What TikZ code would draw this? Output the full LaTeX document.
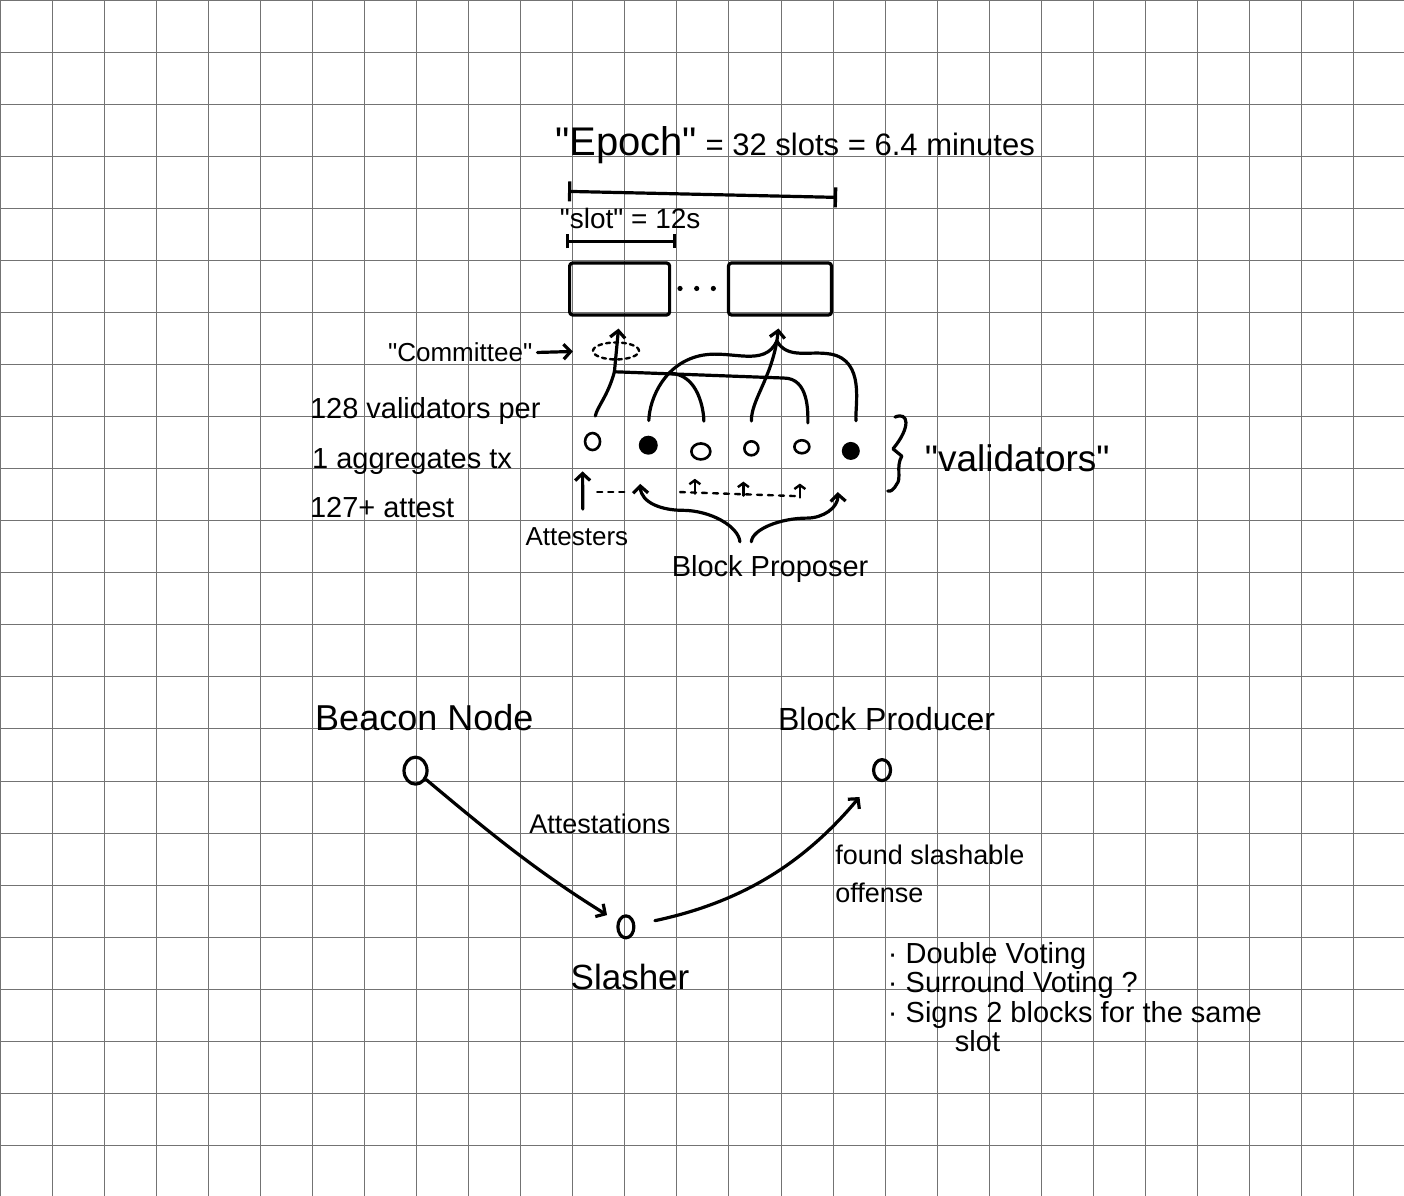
\documentclass[tikz,border=0pt]{standalone}
\usepackage{fontspec}
\setmainfont{Liberation Sans}
\usetikzlibrary{arrows.meta, shapes.geometric}
\newcommand{\dq}{\textquotedbl}

\begin{document}
\begin{tikzpicture}[x=52.07pt, y=52.07pt,
		gridline/.style={draw=black!55, line width=1pt},
		pen/.style={line width=3.2pt, line cap=round, line join=round},
		thinpen/.style={line width=2.4pt, line cap=round, line join=round},
		hand/.style={font=\fontsize{29}{34}\selectfont, inner sep=0pt},
		slotbox/.style={draw, pen, rounded corners=3pt, minimum height=52pt, inner sep=0pt},
		valopen/.style={ellipse, draw, line width=2.6pt, inner sep=0pt},
		valfull/.style={circle, fill, inner sep=0pt},
		ring/.style={ellipse, draw, pen, inner sep=0pt},
		>={Straight Barb[length=7pt, width=15pt]}]
		\fill[white] (0, 0) rectangle (26.964, -22.969);
		\useasboundingbox (0, 0) rectangle (26.964, -22.969);
		\foreach \i in {0,...,26}
			\draw[gridline] (\i, 0) -- (\i, -22.969);
		\foreach \j in {0,...,22}
			\draw[gridline] (0, -\j) -- (26.964, -\j);

		\node[hand, font=\fontsize{31}{36}\selectfont, anchor=base west] (epoch) at (10.66, -2.98) {{\fontsize{40}{40}\selectfont\dq Epoch\dq} = 32 slots = 6.4 minutes};
		\node[slotbox, minimum width=100pt] (slotA) at (11.9, -5.55) {};
		\node[slotbox, minimum width=103pt] (slotB) at (14.98, -5.55) {};
		\foreach \x in {13.06, 13.38, 13.7}
			\fill (\x, -5.54) circle (2.6pt);
		\draw[pen, {Bar[width=20pt]}-{Bar[width=20pt]}] ([yshift=70pt]slotA.north west) -- ([xshift=4pt, yshift=64pt]slotB.north east);
		\node[hand, font=\fontsize{28}{32}\selectfont, anchor=base west] (slotlbl) at (10.75, -4.38) {\dq slot\dq{} = 12s};
		\draw[pen, {Bar[width=14pt]}-{Bar[width=14pt]}] ([xshift=-2pt, yshift=20pt]slotA.north west) -- ([xshift=5pt, yshift=20pt]slotA.north east);

		\node[hand, font=\fontsize{26}{30}\selectfont, anchor=base west] (comm) at (7.45, -6.95) {\dq Committee\dq};
		\node[ellipse, draw, thinpen, dash pattern=on 4pt off 4pt, minimum width=46pt, minimum height=17pt, inner sep=0pt] (cmte) at (11.83, -6.74) {};
		\draw[pen, ->, shorten <=5pt, shorten >=19pt] (comm.east) -- (cmte.west);

		\node[valopen, minimum width=15pt, minimum height=17pt] (v1) at (11.38, -8.48) {};
		\node[valfull, minimum size=19pt] (v2) at (12.45, -8.55) {};
		\node[valopen, minimum width=19pt, minimum height=16pt] (v3) at (13.46, -8.67) {};
		\node[valopen, minimum width=14pt, minimum height=14pt] (v4) at (14.43, -8.61) {};
		\node[valopen, minimum width=15pt, minimum height=13pt] (v5) at (15.4, -8.58) {};
		\node[valfull, minimum size=18pt] (v6) at (16.34, -8.66) {};

		\coordinate (jA) at (11.8, -7.14);
		\coordinate (jB) at (12.85, -7.17);
		\coordinate (pB) at (14.92, -6.55);
		\draw[pen, ->, shorten >=12pt] (jA) -- (slotA.south);
		\draw[pen, shorten <=16pt] (v1.north) to[out=80, in=-105] (jA);
		\draw[pen, shorten >=16pt] (jA) -- (15.05, -7.26) to[out=0, in=90] ([xshift=6pt]v5.north);
		\draw[pen, shorten <=21pt] ([xshift=3pt]v3.north) to[out=90, in=0] (jB);
		\draw[pen, ->, shorten >=12pt] (pB) -- (slotB.south);
		\draw[pen, shorten <=15pt] (v2.north) to[out=88, in=190] (13.5, -6.82) to[out=10, in=-115] (pB);
		\draw[pen, shorten <=19pt] (v4.north) to[out=90, in=-100] (pB);
		\draw[pen, shorten <=21pt] ([xshift=7pt]v6.north) to[out=95, in=-10] (15.95, -6.8) to[out=170, in=-60] (pB);

		\node[hand, anchor=base west] (perval) at (5.95, -8.03) {128 validators per};
		\node[hand, anchor=base west] (aggr) at (5.99, -8.99) {1 aggregates tx};
		\node[hand, anchor=base west] (attst) at (5.95, -9.93) {127+ attest};

		\draw[pen] (17.19, -8.01) .. controls (17.45, -7.9) and (17.5, -8.2) .. (17.15, -8.62) -- (17.32, -8.76) .. controls (17.2, -8.95) and (17.32, -9.2) .. (17.22, -9.3) .. controls (17.17, -9.4) and (17.1, -9.45) .. (17.05, -9.43);
		\node[hand, font=\fontsize{37}{40}\selectfont, anchor=base west] (vlbl) at (17.76, -9.06) {\dq validators\dq};

		\node[hand, font=\fontsize{26}{30}\selectfont, anchor=base] (att) at (11.08, -10.47) {Attesters};
		\draw[pen, ->, shorten <=18pt] ([xshift=6pt]att.north) -- ([xshift=-10pt, yshift=-20pt]v1.south);
		\draw[thinpen, dash pattern=on 5pt off 6pt] (11.47, -9.45) -- (12.04, -9.45);
		\draw[thinpen, dash pattern=on 5pt off 6pt] (13.06, -9.45) -- (15.36, -9.53);
		\foreach \v/\s/\a/\b in {v3/-6pt/-33pt/-18pt, v4/-8pt/-39pt/-25pt, v5/-2pt/-43pt/-29pt}
			\draw[thinpen, -{Straight Barb[length=4pt, width=11pt]}] ([xshift=\s, yshift=\a]\v.south) -- ([xshift=\s, yshift=\b]\v.south);

		\node[hand, anchor=base] (bp) at (14.79, -11.08) {Block Proposer};
		\draw[pen, ->, shorten <=14pt] ([xshift=-29pt]bp.north) to[out=95, in=0] (13.1, -9.8) to[out=180, in=-88] ([xshift=-8pt, yshift=-29pt]v2.south);
		\draw[pen, ->, shorten <=14pt] ([xshift=-20pt]bp.north) to[out=85, in=180] (15.5, -9.95) to[out=0, in=-88] ([xshift=-13pt, yshift=-32pt]v6.south);

		\node[hand, font=\fontsize{36}{40}\selectfont, anchor=base west] (bnl) at (6.05, -14.02) {Beacon Node};
		\node[hand, font=\fontsize{32}{36}\selectfont, anchor=base west] (prl) at (14.94, -14.02) {Block Producer};
		\node[ring, minimum width=23pt, minimum height=27pt] (bcn) at (7.98, -14.8) {};
		\node[ring, minimum width=17pt, minimum height=21pt] (prd) at (16.94, -14.79) {};
		\node[ring, minimum width=16pt, minimum height=22pt] (sl) at (12.02, -17.8) {};
		\node[hand, font=\fontsize{35}{40}\selectfont, anchor=base] (sll) at (12.1, -19.01) {Slasher};
		\draw[pen, ->, shorten >=12pt] (bcn) to[out=-40, in=148] (sl);
		\node[hand, font=\fontsize{27}{30}\selectfont, anchor=base] (attn) at (11.52, -16.0) {Attestations};
		\draw[pen, ->, shorten <=20pt, shorten >=24pt] (sl) to[out=12, in=-130] (prd);
		\node[hand, font=\fontsize{27}{38}\selectfont, anchor=north west, align=left] (found) at (16.04, -16.23) {found slashable\\offense};
		\node[hand, font=\fontsize{29}{29.5}\selectfont, anchor=north west, align=left] (offenses) at (17.05, -18.09) {· Double Voting\\· Surround Voting ?\\· Signs 2 blocks for the same\\\hspace*{67pt}slot};
	\end{tikzpicture}
\end{document}
